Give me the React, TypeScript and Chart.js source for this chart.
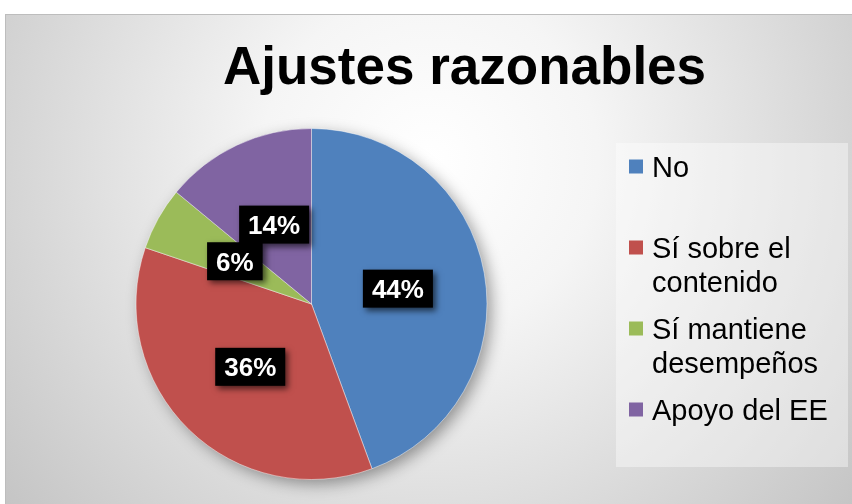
import React, { useEffect, useRef } from "react";
import { Chart, registerables } from "chart.js";

Chart.register(...registerables);

const chartTitle = "Ajustes razonables";
const categories = ["No", "Sí sobre el contenido", "Sí mantiene desempeños", "Apoyo del EE"];
const legendLines = [["No"], ["Sí sobre el", "contenido"], ["Sí mantiene", "desempeños"], ["Apoyo del EE"]];
const percentages = [44.4, 35.8, 5.8, 14.0];
const sliceColors = ["#4F81BD", "#C0504D", "#9BBB59", "#8064A2"];

const FONT = '"Liberation Sans", Arial, sans-serif';

const backgroundPlugin = {
  id: "bgDecor",
  beforeDraw(chart: any) {
    const ctx = chart.ctx as CanvasRenderingContext2D;
    ctx.save();
    ctx.fillStyle = "#ffffff";
    ctx.fillRect(0, 0, chart.width, chart.height);
    const g = ctx.createRadialGradient(430, 160, 0, 430, 160, 560);
    g.addColorStop(0, "#ffffff");
    g.addColorStop(0.3, "#f5f5f5");
    g.addColorStop(1, "#c3c3c3");
    ctx.fillStyle = g;
    ctx.fillRect(5, 14, chart.width - 5, chart.height - 14);
    ctx.strokeStyle = "#bdbdbd";
    ctx.lineWidth = 1;
    ctx.strokeRect(5.5, 14.5, chart.width, chart.height);

    // legend panel
    ctx.fillStyle = "rgba(255,255,255,0.4)";
    ctx.fillRect(616, 143, 232, 324);

    // title
    ctx.fillStyle = "#000000";
    ctx.font = `bold 53px ${FONT}`;
    ctx.textAlign = "left";
    ctx.textBaseline = "alphabetic";
    ctx.fillText(chartTitle, 223, 84);

    // legend
    const labels = chart.data.labels as string[];
    const colors = chart.data.datasets[0].backgroundColor as string[];
    ctx.font = `29px ${FONT}`;
    labels.forEach((_, i) => {
      const base = 143 + i * 81 + 33.5;
      ctx.fillStyle = colors[i];
      ctx.fillRect(629, base - 17, 14, 14);
      ctx.fillStyle = "#000000";
      legendLines[i].forEach((line, j) => {
        ctx.fillText(line, 652, base + j * 34);
      });
    });
    ctx.restore();
  },
  beforeDatasetsDraw(chart: any) {
    const meta = chart.getDatasetMeta(0);
    const arc = meta.data[0];
    if (!arc) return;
    const ctx = chart.ctx as CanvasRenderingContext2D;
    ctx.save();
    ctx.shadowColor = "rgba(0,0,0,0.4)";
    ctx.shadowBlur = 16;
    ctx.shadowOffsetX = 5;
    ctx.shadowOffsetY = 5;
    ctx.fillStyle = "#8a8a8a";
    ctx.beginPath();
    ctx.arc(arc.x, arc.y, arc.outerRadius - 1, 0, Math.PI * 2);
    ctx.fill();
    ctx.restore();
  },
  afterDatasetsDraw(chart: any) {
    const meta = chart.getDatasetMeta(0);
    const data = chart.data.datasets[0].data as number[];
    const total = data.reduce((a, b) => a + b, 0);
    const ctx = chart.ctx as CanvasRenderingContext2D;
    ctx.save();
    ctx.font = `bold 26px ${FONT}`;
    meta.data.forEach((el: any, i: number) => {
      const { x, y } = el.tooltipPosition();
      const text = `${Math.round((data[i] / total) * 100)}%`;
      const w = ctx.measureText(text).width + 18;
      const h = 38;
      ctx.save();
      ctx.shadowColor = "rgba(0,0,0,0.6)";
      ctx.shadowBlur = 6;
      ctx.shadowOffsetX = 3;
      ctx.shadowOffsetY = 3;
      ctx.fillStyle = "#000000";
      ctx.fillRect(x - w / 2, y - h / 2, w, h);
      ctx.restore();
      ctx.fillStyle = "#ffffff";
      ctx.textAlign = "center";
      ctx.textBaseline = "alphabetic";
      ctx.fillText(text, x, y + 9.5);
    });
    ctx.restore();
  },
};

export default function App() {
  const canvasRef = useRef<HTMLCanvasElement | null>(null);

  useEffect(() => {
    document.body.style.margin = "0";
    const canvas = canvasRef.current;
    if (!canvas) return;
    const chart = new Chart(canvas, {
      type: "pie",
      data: {
        labels: categories,
        datasets: [
          {
            data: percentages,
            backgroundColor: sliceColors,
            borderColor: "rgba(255,255,255,0.45)",
            borderWidth: 1,
          },
        ],
      },
      options: {
        responsive: false,
        animation: false,
        devicePixelRatio: 1,
        events: [],
        layout: { padding: { left: 135.5, right: 364.5, top: 128, bottom: 24 } },
        plugins: {
          legend: { display: false },
          title: { display: false },
          tooltip: { enabled: false },
        },
      },
      plugins: [backgroundPlugin],
    });
    return () => chart.destroy();
  }, []);

  return (
    <div style={{ width: 852, height: 504 }}>
      <canvas ref={canvasRef} width={852} height={504} style={{ display: "block" }} />
    </div>
  );
}
